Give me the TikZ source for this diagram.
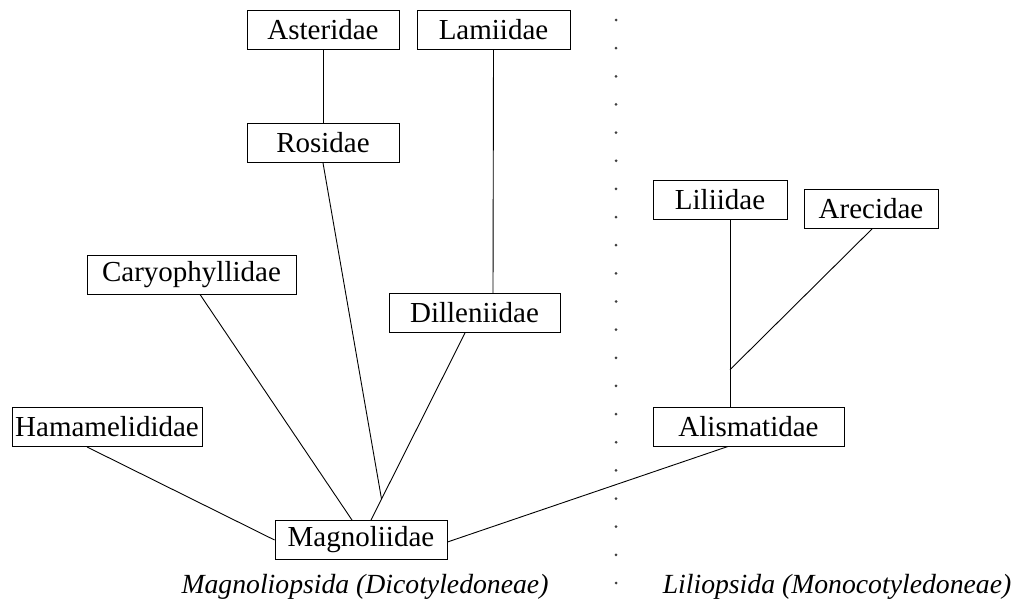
\documentclass[tikz,border=0pt]{standalone}
\usepackage{fontspec}
\setmainfont{Liberation Serif}
\usetikzlibrary{calc}
\tikzset{
  taxon/.style={draw, line width=0.9pt, inner sep=0pt, minimum height=39pt,
    font=\fontsize{29}{34}\selectfont},
  link/.style={line width=0.9pt},
  grouplabel/.style={font=\fontsize{27.7}{32}\selectfont\itshape, inner sep=0pt},
  dotmark/.style={fill=black!75, draw=none}
}
\begin{document}
\begin{tikzpicture}[x=1pt,y=-1pt]
\useasboundingbox (0,0) rectangle (1022,605);
% nodes
\node[taxon, minimum width=152pt] (ast) at (323,29.5) {Asteridae};
\node[taxon, minimum width=153pt] (lam) at (493.5,29.5) {Lamiidae};
\node[taxon, minimum width=152pt] (ros) at (323,143) {Rosidae};
\node[taxon, minimum width=209pt] (car) at (191.5,274.5) {Caryophyllidae};
\node[taxon, minimum width=171pt] (dil) at (474.5,313) {Dilleniidae};
\node[taxon, minimum width=190pt] (ham) at (107,427) {Hamamelididae};
\node[taxon, minimum width=172pt] (mag) at (361,540) {Magnoliidae};
\node[taxon, minimum width=134pt] (lil) at (720,199.5) {Liliidae};
\node[taxon, minimum width=134pt] (are) at (871,209) {Arecidae};
\node[taxon, minimum width=191pt] (ali) at (748.5,426.5) {Alismatidae};
% labels
\node[grouplabel] (dico) at (365,587) {Magnoliopsida (Dicotyledoneae)};
\node[grouplabel] (mono) at (837,587) {Liliopsida (Monocotyledoneae)};
% junction points
\coordinate (jd) at ($([xshift=-9.5pt]dil.south)!0.888!([xshift=10pt]mag.north)$);
\coordinate (jl) at ($([xshift=10pt]lil.south)!0.803!([xshift=-18.5pt]ali.north)$);
% connectors
\draw[link] (ast.south) -- (ros.north);
\draw[link] (lam.south) -- ([xshift=18.5pt]dil.north);
\draw[link] ([xshift=-9.5pt]dil.south) -- ([xshift=10pt]mag.north);
\draw[link] (ros.south) -- (jd);
\draw[link] ([xshift=8.5pt]car.south) -- ([xshift=-9pt]mag.north);
\draw[link] ([xshift=-20pt]ham.south) -- (mag.west);
\draw[link] ([yshift=-2pt]mag.east) -- ([xshift=-20.5pt]ali.south);
\draw[link] ([xshift=10pt]lil.south) -- ([xshift=-18.5pt]ali.north);
\draw[link] ([xshift=1pt]are.south) -- (jl);
% dotted divider
\foreach \k in {0,...,20} {
  \fill[dotmark] (616,{20+28.15*\k}) circle (1.5pt);
}
\end{tikzpicture}
\end{document}
